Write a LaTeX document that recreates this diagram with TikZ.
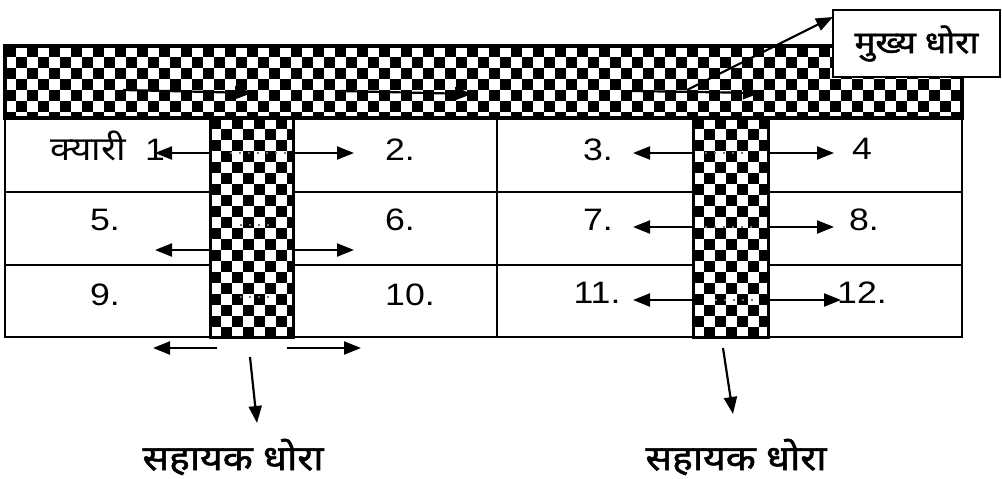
\documentclass[tikz,border=0pt]{standalone}
\usepackage{graphicx}
\usepackage{fontspec}
\setmainfont{Liberation Sans}
\newfontfamily\dev[Script=Devanagari]{Noto Sans}
\newfontfamily\devbold[Script=Devanagari,FakeBold=1.4]{Noto Sans}
\newcommand{\hstretch}[2][1.15]{\scalebox{#1}[1]{#2}}
\usetikzlibrary{arrows.meta}
\begin{document}
\begin{tikzpicture}[x=1pt,y=-1pt,
  arr/.style={line width=2.2pt,-{Triangle[length=17pt,width=13pt]}},
  num/.style={font=\fontsize{31}{36}\selectfont, inner sep=0pt},
  dnum/.style={font=\dev\fontsize{33}{38}\selectfont, inner sep=0pt},
  lbl/.style={font=\devbold\fontsize{35}{40}\selectfont, inner sep=0pt},
  boxlbl/.style={draw, line width=2.2pt, fill=white, font=\devbold\fontsize{31}{36}\selectfont,
    minimum width=167pt, minimum height=67pt, inner sep=0pt},
  channel/.style={line width=3.5pt},
  subch/.style={line width=3pt},
  grid/.style={line width=2.2pt},
  dots/.style={line width=1.8pt, dash pattern=on 2pt off 7pt, black!55}]
\useasboundingbox (0,0) rectangle (1002,479);
\fill[white] (0,0) rectangle (1002,479);

% table
\draw[grid] (5,118) rectangle (962,337);
\draw[grid] (5,192) -- (962,192) (5,265) -- (962,265) (497,118) -- (497,337);

% main channel
\fill[white] (5,46) rectangle (962,118);
\begin{scope}
  \clip (5,46) rectangle (962,118);
  \foreach \i in {0,...,43} \foreach \j in {0,...,3} {
    \fill ({5+22*\i},{46+22*\j}) rectangle ++(11,11);
    \fill ({16+22*\i},{57+22*\j}) rectangle ++(11,11);
  }
\end{scope}
\draw[channel] (5,46) rectangle (962,118);

% sub channels
\foreach \xa/\xb in {210/293, 693/768} {
  \fill[white] (\xa,118) rectangle (\xb,337);
  \begin{scope}
    \clip (\xa,118) rectangle (\xb,337);
    \foreach \i in {0,...,3} \foreach \j in {0,...,9} {
      \fill ({\xa+22*\i},{118+22*\j}) rectangle ++(11,11);
      \fill ({\xa+11+22*\i},{129+22*\j}) rectangle ++(11,11);
    }
  \end{scope}
  \draw[subch] (\xa,118) rectangle (\xb,337);
}

% dotted lines inside sub channels
\draw[dots] (230,153) -- (287,153);
\draw[dots] (240,225) -- (272,225);
\draw[dots] (240,297) -- (270,297);
\draw[dots] (705,153) -- (750,153);
\draw[dots] (705,227) -- (757,227);
\draw[dots] (715,300) -- (760,300);

% cell labels
\node[dnum] (k1a) at (88,146) {\hstretch[1.12]{क्यारी}};
\node[num] (k1) at (155,150) {\hstretch{1}};
\node[num] (k2) at (400,150) {\hstretch{2.}};
\node[num] (k3) at (598,150) {\hstretch{3.}};
\node[num] (k4) at (862,149) {\hstretch{4}};
\node[num] (k5) at (105,220) {\hstretch{5.}};
\node[num] (k6) at (400,220) {\hstretch{6.}};
\node[num] (k7) at (598,220) {\hstretch{7.}};
\node[num] (k8) at (864,220) {\hstretch{8.}};
\node[num] (k9) at (105,295) {\hstretch{9.}};
\node[num] (k10) at (410,295) {\hstretch{10.}};
\node[num] (k11) at (597,293) {\hstretch{11.}};
\node[num] (k12) at (862,293) {\hstretch{12.}};

% arrow end points
\coordinate (m1s) at (123,90);  \coordinate (m1e) at (252,93);
\coordinate (m2s) at (340,91);  \coordinate (m2e) at (472,94);
\coordinate (m3s) at (632,91);  \coordinate (m3e) at (760,93);
\coordinate (ps) at (687,90);   \coordinate (pe) at (833,17);

\coordinate (l1a) at (210,153); \coordinate (l1b) at (155,153);
\coordinate (r1a) at (293,153); \coordinate (r1b) at (354,153);
\coordinate (l2a) at (210,250); \coordinate (l2b) at (155,250);
\coordinate (r2a) at (293,250); \coordinate (r2b) at (354,250);
\coordinate (l3a) at (217,348); \coordinate (l3b) at (153,348);
\coordinate (r3a) at (287,348); \coordinate (r3b) at (361,348);

\coordinate (L1a) at (693,153); \coordinate (L1b) at (633,153);
\coordinate (R1a) at (768,153); \coordinate (R1b) at (834,153);
\coordinate (L2a) at (693,227); \coordinate (L2b) at (633,227);
\coordinate (R2a) at (768,227); \coordinate (R2b) at (834,227);
\coordinate (L3a) at (693,300); \coordinate (L3b) at (633,300);
\coordinate (R3a) at (768,300); \coordinate (R3b) at (841,300);

\coordinate (d1a) at (250,357); \coordinate (d1b) at (257,423);
\coordinate (d2a) at (723,348); \coordinate (d2b) at (733,414);

% arrows
\draw[arr] (m1s) -- (m1e);
\draw[arr] (m2s) -- (m2e);
\draw[arr] (m3s) -- (m3e);
\foreach \a/\b in {l1a/l1b, r1a/r1b, l2a/l2b, r2a/r2b, l3a/l3b, r3a/r3b,
                   L1a/L1b, R1a/R1b, L2a/L2b, R2a/R2b, L3a/L3b, R3a/R3b,
                   d1a/d1b, d2a/d2b}
  \draw[arr] (\a) -- (\b);

% main channel label
\node[boxlbl] (box) at (916.5,43.5) {\hstretch[1.12]{मुख्य धोरा}};
\draw[arr] (ps) -- (pe);

% sub channel labels
\node[lbl] (s1) at (233,457) {\hstretch[1.12]{सहायक धोरा}};
\node[lbl] (s2) at (736,457) {\hstretch[1.12]{सहायक धोरा}};
\end{tikzpicture}
\end{document}
